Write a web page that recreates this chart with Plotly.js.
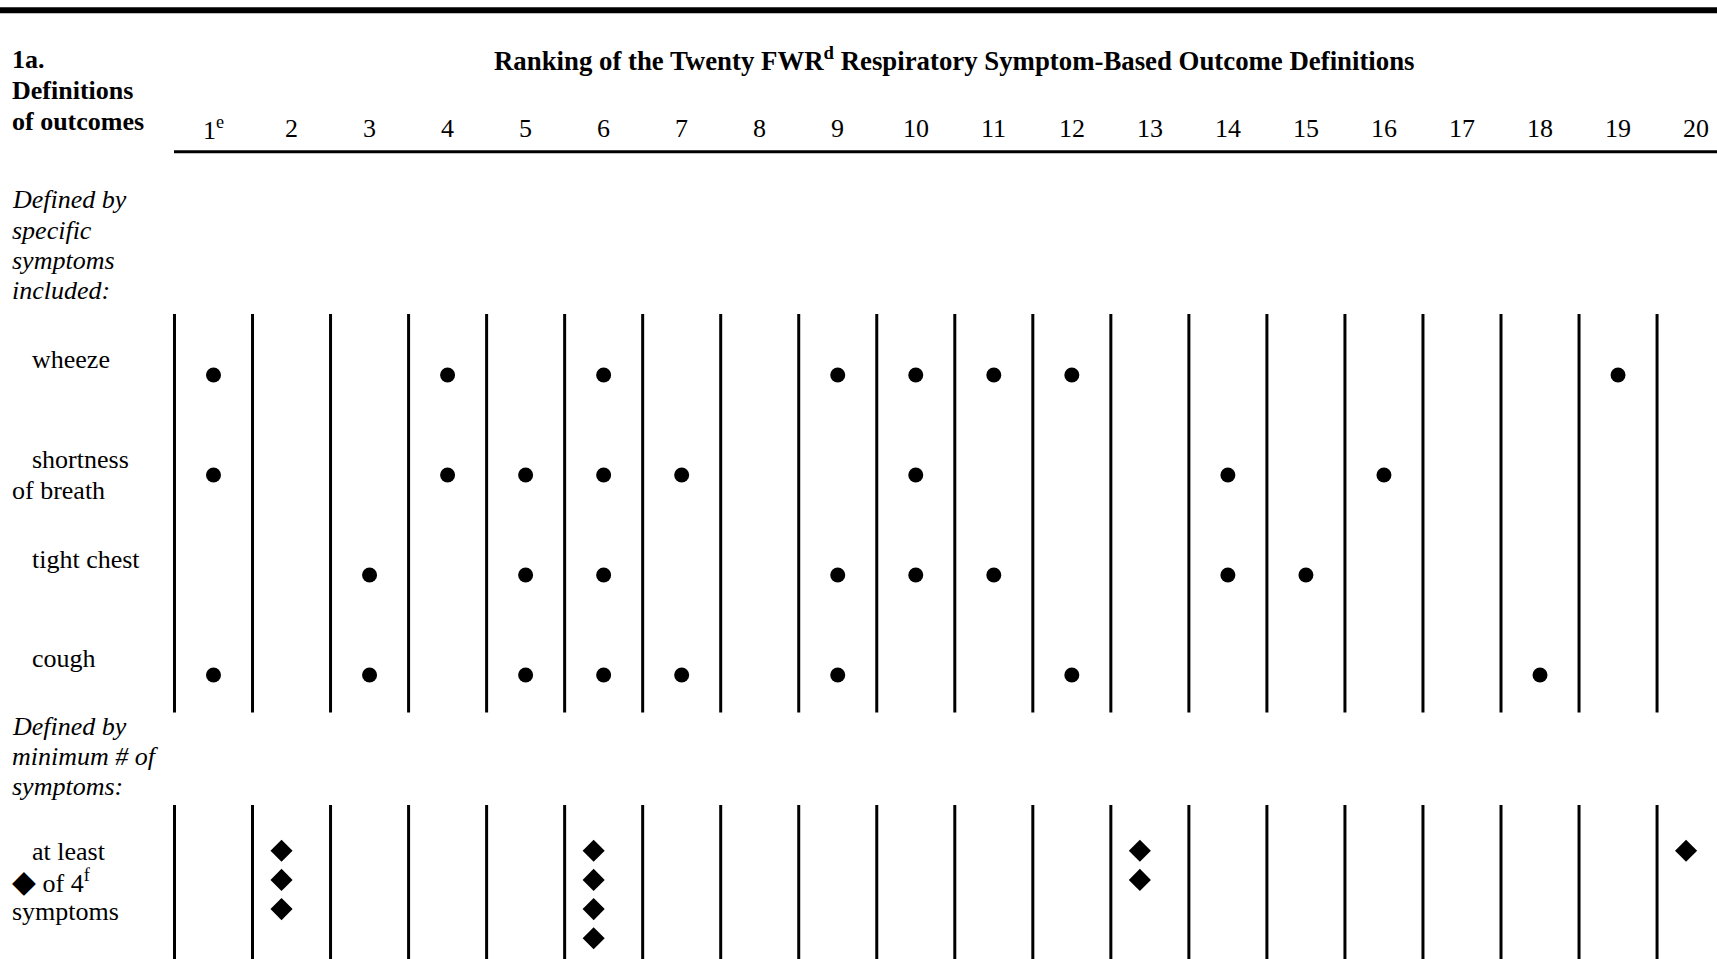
<!DOCTYPE html>
<html>
<head>
<meta charset="utf-8">
<script src="https://cdn.plot.ly/plotly-3.0.1.min.js"></script>
<style>
  html, body { margin: 0; padding: 0; background: #ffffff; }
  #chart { width: 1717px; height: 959px; }
</style>
</head>
<body>
<div id="chart"></div>
<script>
// ---------------- DATA ----------------
const columns = [1, 2, 3, 4, 5, 6, 7, 8, 9, 10, 11, 12, 13, 14, 15, 16, 17, 18, 19, 20];
const colLabels = ['1<sup>e</sup>', '2', '3', '4', '5', '6', '7', '8', '9', '10',
                   '11', '12', '13', '14', '15', '16', '17', '18', '19', '20'];
const symptoms = ['wheeze', 'shortness of breath', 'tight chest', 'cough'];
const wheezeCols = [1, 4, 6, 9, 10, 11, 12, 19];
const shortnessCols = [1, 4, 5, 6, 7, 10, 14, 16];
const tightChestCols = [3, 5, 6, 9, 10, 11, 14, 15];
const coughCols = [1, 3, 5, 6, 7, 9, 12, 18];
const minSymptomCols = [2, 6, 13, 20];
const minSymptomCounts = [3, 4, 2, 1];

// ---------------- LAYOUT CONSTANTS ----------------
const W = 1717, H = 959;
const FONT = '"Liberation Serif", "Times New Roman", Times, serif';
const FS = 26;
const col1Px = 213.5, colStep = 78.03;
const xMin = 1 - col1Px / colStep;
const xMax = xMin + W / colStep;
const diamondShiftPx = 10;
const rowTopPx = 375, rowStep = 100;
const dTopPx = 850.7, dStep = 29.2;

function py(px) { return 1 - px / H; }
function px2x(px) { return px / W; }

// ---------------- TRACES ----------------
const symptomCols = [wheezeCols, shortnessCols, tightChestCols, coughCols];
const traces = symptomCols.map((cols, i) => ({
  type: 'scatter', mode: 'markers',
  x: cols, y: cols.map(() => symptoms[i]),
  xaxis: 'x', yaxis: 'y',
  marker: { symbol: 'circle', size: 15, color: '#000000' },
  hoverinfo: 'skip', showlegend: false
}));

const dx = [], dy = [];
minSymptomCols.forEach((c, i) => {
  for (let k = 1; k <= minSymptomCounts[i]; k++) { dx.push(c); dy.push(k); }
});
traces.push({
  type: 'scatter', mode: 'markers',
  x: dx, y: dy, xaxis: 'x2', yaxis: 'y2',
  marker: { symbol: 'diamond', size: 17, color: '#000000' },
  hoverinfo: 'skip', showlegend: false
});

// ---------------- SHAPES ----------------
const shapes = [];
shapes.push({ type: 'line', xref: 'paper', yref: 'paper', x0: 0, x1: 1, y0: py(10.3), y1: py(10.3),
              line: { color: '#000', width: 6 } });
shapes.push({ type: 'line', xref: 'paper', yref: 'paper', x0: px2x(174), x1: 1, y0: py(151.7), y1: py(151.7),
              line: { color: '#000', width: 3 } });
columns.forEach(c => {
  shapes.push({ type: 'line', xref: 'x', yref: 'paper', x0: c - 0.5, x1: c - 0.5, y0: py(314), y1: py(712.5),
                line: { color: '#000', width: 3 } });
  shapes.push({ type: 'line', xref: 'x', yref: 'paper', x0: c - 0.5, x1: c - 0.5, y0: py(805), y1: py(965),
                line: { color: '#000', width: 3 } });
});

// ---------------- TEXT ----------------
const annotations = [];
function txt(text, xPx, baselinePx, opts) {
  opts = opts || {};
  const fs = opts.size || FS;
  annotations.push({
    text: text, xref: opts.xref || 'paper', yref: 'paper',
    x: opts.xref === 'x' ? xPx : xPx / W, y: py(baselinePx - 0.34 * fs),
    xanchor: opts.anchor || 'left', yanchor: 'middle', showarrow: false,
    font: { family: FONT, size: fs, color: '#000' }, borderpad: 0
  });
}
// header
txt('<b>1a.</b>', 11, 68);
txt('<b>Definitions</b>', 11, 99);
txt('<b>of outcomes</b>', 11, 130);
txt('<b>Ranking of the Twenty FWR<sup>d</sup> Respiratory Symptom-Based Outcome Definitions</b>', 955, 68, { anchor: 'center', size: 26.8 });
columns.forEach((c, i) => txt(colLabels[i], c, 137, { xref: 'x', anchor: 'center' }));
// section 1
txt('<i>Defined by</i>', 11, 208);
txt('<i>specific</i>', 11, 239);
txt('<i>symptoms</i>', 11, 269);
txt('<i>included:</i>', 11, 299);
txt('wheeze', 31, 368);
txt('shortness', 31, 468);
txt('of breath', 11, 499);
txt('tight chest', 31, 568);
txt('cough', 31, 667);
// section 2
txt('<i>Defined by</i>', 11, 735);
txt('<i>minimum # of</i>', 11, 765);
txt('<i>symptoms:</i>', 11, 795);
txt('at least', 31, 860);
txt('<span style="font-size:31px">\u25C6</span> of 4<sup>f</sup>', 11, 890);
txt('symptoms', 11, 920);

const layout = {
  width: W, height: H,
  margin: { l: 0, r: 0, t: 0, b: 0, pad: 0 },
  paper_bgcolor: '#ffffff', plot_bgcolor: '#ffffff',
  showlegend: false,
  xaxis: { range: [xMin, xMax], visible: false, fixedrange: true },
  xaxis2: { range: [xMin + diamondShiftPx / colStep, xMax + diamondShiftPx / colStep],
            overlaying: 'x', visible: false, fixedrange: true },
  yaxis: { type: 'category', categoryarray: symptoms, categoryorder: 'array',
           range: [-rowTopPx / rowStep + H / rowStep, -rowTopPx / rowStep], visible: false, fixedrange: true },
  yaxis2: { range: [1 - dTopPx / dStep + H / dStep, 1 - dTopPx / dStep],
            overlaying: 'y', visible: false, fixedrange: true },
  shapes: shapes,
  annotations: annotations
};

Plotly.newPlot('chart', traces, layout, { staticPlot: true, displayModeBar: false });
</script>
</body>
</html>
